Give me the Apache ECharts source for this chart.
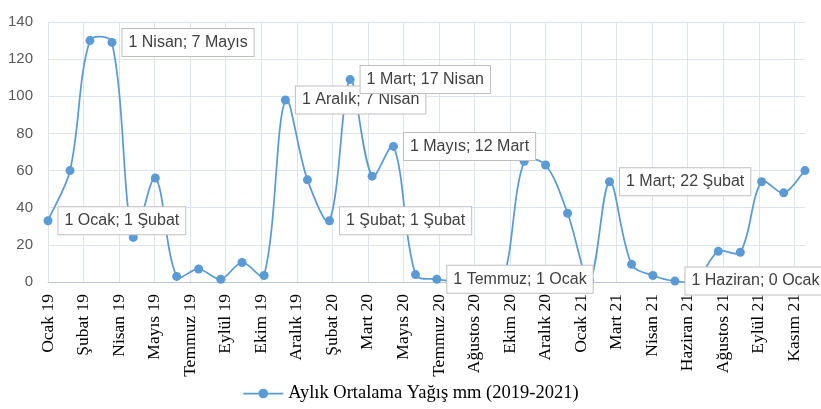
<!DOCTYPE html>
<html>
<head>
<meta charset="utf-8">
<script src="https://cdn.jsdelivr.net/npm/echarts@6/dist/echarts.min.js"></script>
<style>
  html, body { margin: 0; padding: 0; background: #fff; }
  #chart { width: 821px; height: 409px; }
</style>
</head>
<body>
<div id="chart"></div>
<script>
// Monthly rainfall, Jan 2019 – Dec 2021
const months = [
  '2019-01','2019-02','2019-03','2019-04','2019-05','2019-06',
  '2019-07','2019-08','2019-09','2019-10','2019-11','2019-12',
  '2020-01','2020-02','2020-03','2020-04','2020-05','2020-06',
  '2020-07','2020-08','2020-09','2020-10','2020-11','2020-12',
  '2021-01','2021-02','2021-03','2021-04','2021-05','2021-06',
  '2021-07','2021-08','2021-09','2021-10','2021-11','2021-12'
];
const rainfall = [
  33, 60, 130, 129, 24, 56,
  3, 7, 1.5, 10.5, 3.5, 98,
  55, 33, 109, 57, 73, 4,
  1.5, 0, 0, 0, 65, 63,
  37, 1, 54, 9.5, 3.5, 0.5,
  1, 16.5, 16, 54, 48, 60
];
// Callout texts, keyed by month
const noteMonths = ['2019-01','2019-04','2019-12','2020-02','2020-03','2020-05','2020-07','2021-03','2021-06'];
const noteTexts = [
  '1 Ocak; 1 Şubat', '1 Nisan; 7 Mayıs', '1 Aralık; 7 Nisan', '1 Şubat; 1 Şubat',
  '1 Mart; 17 Nisan', '1 Mayıs; 12 Mart', '1 Temmuz; 1 Ocak', '1 Mart; 22 Şubat',
  '1 Haziran; 0 Ocak'
];
const monthNames = ['Ocak','Şubat','Mart','Nisan','Mayıs','Haziran','Temmuz','Ağustos','Eylül','Ekim','Kasım','Aralık'];
const seriesName = 'Aylık Ortalama Yağış mm (2019-2021)';

const DAY = 86400000;
const origin = Date.UTC(2019, 0, 1);
function dayOffset(ym) {
  const [y, m] = ym.split('-').map(Number);
  return (Date.UTC(y, m - 1, 1) - origin) / DAY;
}
function tickLabel(v) {
  const d = new Date(origin + v * DAY);
  return monthNames[d.getUTCMonth()] + ' ' + String(d.getUTCFullYear()).slice(2);
}

const points = months.map((m, i) => [dayOffset(m), rainfall[i]]);
const LINE_COLOR = '#5b9bd5';

const seriesData = points.map((p, i) => {
  const item = { value: p };
  const k = noteMonths.indexOf(months[i]);
  if (k >= 0) {
    item.label = {
      show: true,
      formatter: noteTexts[k],
      position: 'right',
      distance: 6,
      backgroundColor: '#ffffff',
      borderColor: '#bfbfbf',
      borderWidth: 1,
      padding: [6, 6, 5, 6],
      fontFamily: 'Liberation Sans',
      fontSize: 16,
      color: '#404040'
    };
  }
  return item;
});

// Smoothed curve: one cubic Bezier per segment, control points taken from
// the neighbouring points and weighted by segment length (no clamping).
const TENSION = 1 / 3;
function renderSegment(params, api) {
  const i = params.dataIndex;
  const n = points.length;
  if (i >= n - 1) return null;
  const c = j => api.coord(points[Math.max(0, Math.min(n - 1, j))]);
  const p0 = c(i - 1), p1 = c(i), p2 = c(i + 1), p3 = c(i + 2);
  const len = (a, b) => Math.hypot(b[0] - a[0], b[1] - a[1]);
  // forward control at p1
  let l0 = len(p0, p1), l1 = len(p1, p2);
  let r = (l0 + l1) ? l1 / (l0 + l1) : 0.5;
  const cp1 = [p1[0] + (p2[0] - p0[0]) * TENSION * r, p1[1] + (p2[1] - p0[1]) * TENSION * r];
  // backward control at p2
  l0 = len(p1, p2); l1 = len(p2, p3);
  r = (l0 + l1) ? l1 / (l0 + l1) : 0.5;
  const cp2 = [p2[0] - (p3[0] - p1[0]) * TENSION * (1 - r), p2[1] - (p3[1] - p1[1]) * TENSION * (1 - r)];
  return {
    type: 'bezierCurve',
    shape: { x1: p1[0], y1: p1[1], x2: p2[0], y2: p2[1], cpx1: cp1[0], cpy1: cp1[1], cpx2: cp2[0], cpy2: cp2[1] },
    style: { stroke: LINE_COLOR, lineWidth: 1.75, fill: null }
  };
}

const chart = echarts.init(document.getElementById('chart'));
chart.setOption({
  animation: false,
  backgroundColor: '#ffffff',
  grid: { left: 48, right: 16, top: 22, bottom: 127 },
  xAxis: {
    type: 'value',
    min: 0,
    max: dayOffset(months[months.length - 1]),
    interval: 50,
    axisLine: { show: true, lineStyle: { color: '#b9c8dd', width: 1 } },
    axisTick: { show: false },
    splitLine: { show: true, showMaxLine: false, lineStyle: { color: '#dde4ee', width: 1 } },
    axisLabel: {
      rotate: 90,
      margin: 12,
      showMaxLabel: false,
      fontFamily: 'Liberation Serif',
      fontSize: 17.5,
      color: '#000000',
      formatter: tickLabel
    }
  },
  yAxis: {
    type: 'value',
    min: 0,
    max: 140,
    interval: 20,
    axisLine: { show: false },
    axisTick: { show: false },
    splitLine: { show: true, lineStyle: { color: '#dde4ee', width: 1 } },
    axisLabel: {
      margin: 15,
      fontFamily: 'Liberation Sans',
      fontSize: 15,
      color: '#595959'
    }
  },
  legend: {
    bottom: 1,
    left: 'center',
    itemWidth: 40,
    itemHeight: 12,
    itemGap: 4,
    lineStyle: { color: LINE_COLOR, width: 1.75, opacity: 1 },
    textStyle: { fontFamily: 'Liberation Serif', fontSize: 18.5, color: '#000000' },
    data: [seriesName]
  },
  series: [
    {
      name: 'curve',
      type: 'custom',
      data: points,
      renderItem: renderSegment,
      silent: true,
      z: 1
    },
    {
      name: seriesName,
      type: 'line',
      data: seriesData,
      symbol: 'circle',
      symbolSize: 9,
      itemStyle: { color: LINE_COLOR },
      lineStyle: { color: LINE_COLOR, width: 1.75, opacity: 0 },
      z: 2
    }
  ]
});
</script>
</body>
</html>
